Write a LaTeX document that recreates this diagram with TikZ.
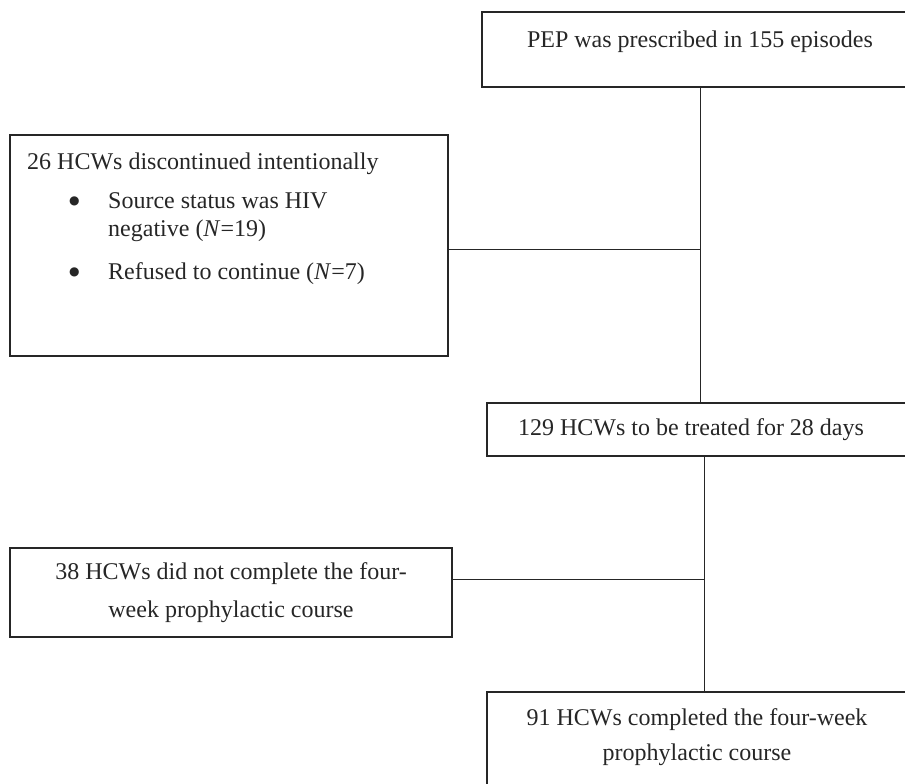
\documentclass[tikz,border=0pt]{standalone}
\usepackage{fontspec}
\setmainfont{Liberation Serif}
\newfontfamily\dotfont{DejaVu Sans}
\newcommand{\bigdot}{\raisebox{4pt}{\dotfont\fontsize{12}{12}\selectfont ●}}

\begin{document}
\begin{tikzpicture}[
        x=1pt, y=-1pt,
        box/.style={rectangle, draw=black!85, line width=1.3pt, inner sep=0pt},
        txt/.style={font=\fontsize{24}{28}\selectfont, inner sep=0pt, text=black!85},
        link/.style={draw=black!85, line width=1pt}
    ]
    \useasboundingbox (0,0) rectangle (905,784);

    % Boxes
    \node[box, minimum width=436pt, minimum height=75pt] (pep) at (700,49.5) {};
    \node[box, minimum width=438pt, minimum height=221pt] (disc) at (229,245.5) {};
    \node[box, minimum width=434pt, minimum height=53pt] (treat) at (704,429.5) {};
    \node[box, txt, align=center, minimum width=442pt, minimum height=89pt] (incomplete) at (231,592.5) {38 HCWs did not complete the four-\\[10pt]week prophylactic course};
    \node[box, minimum width=434pt, minimum height=108pt] (complete) at (704,746) {};

    % Texts
    \node[txt] (pepText) at (700,42) {PEP was prescribed in 155 episodes};
    \node[txt, anchor=north west, align=left] (discText) at (27,153) {26 HCWs discontinued intentionally\\[11pt]
        \hspace*{42pt}\makebox[39pt][l]{\bigdot}Source status was HIV\\
        \hspace*{81pt}negative (\textit{N}=19)\\[15pt]
        \hspace*{42pt}\makebox[39pt][l]{\bigdot}Refused to continue (\textit{N}=7)};
    \node[txt] (treatText) at (691,430) {129 HCWs to be treated for 28 days};
    \node[txt, align=center] (completeText) at (697,737.5) {91 HCWs completed the four-week\\[7pt]prophylactic course};

    % Edges
    \coordinate (joinA) at (pep.south |- 0,249);
    \coordinate (joinB) at (treat.south |- 0,579);
    \draw[link] (pep.south) -- (pep.south |- treat.north);
    \draw[link] (disc.east |- joinA) -- (joinA);
    \draw[link] (treat.south) -- (complete.north);
    \draw[link] (incomplete.east |- joinB) -- (joinB);

\end{tikzpicture}
\end{document}
